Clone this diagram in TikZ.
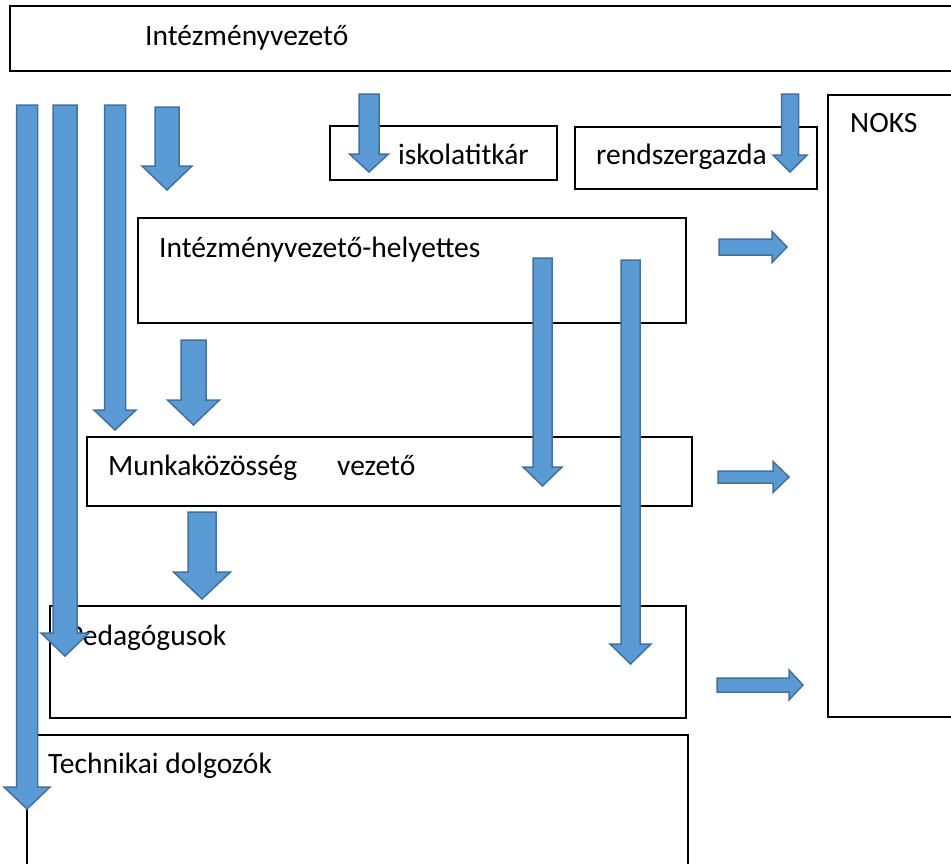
\documentclass[tikz,border=0pt]{standalone}
\usepackage{fontspec}
\setmainfont{Carlito}
\definecolor{arrowblue}{HTML}{5B9BD5}
\definecolor{arrowedge}{HTML}{41719C}
\tikzset{
	box/.style={draw=black, line width=2pt},
	blockarrow/.style={fill=arrowblue, draw=arrowedge, line width=1.5pt, line join=miter},
	boxtext/.style={anchor=base west, inner sep=0pt, font=\fontsize{29.5}{35}\selectfont}
}
% #1 x, #2 top, #3 head base, #4 tip, #5 half shaft, #6 half head
\newcommand{\varrow}[6]{\draw[blockarrow] ({#1-#5},#2) -- ({#1+#5},#2) -- ({#1+#5},#3) -- ({#1+#6},#3) -- (#1,#4) -- ({#1-#6},#3) -- ({#1-#5},#3) -- cycle;}
% #1 y, #2 left, #3 head base, #4 tip, #5 half shaft, #6 half head
\newcommand{\harrow}[6]{\draw[blockarrow] (#2,{#1-#5}) -- (#3,{#1-#5}) -- (#3,{#1-#6}) -- (#4,#1) -- (#3,{#1+#6}) -- (#3,{#1+#5}) -- (#2,{#1+#5}) -- cycle;}
\begin{document}
\begin{tikzpicture}[x=1pt, y=-1pt]
	\clip (0,0) rectangle (951,863);
	\fill[white] (0,0) rectangle (951,863);
	% boxes
	\draw[box] (10,6) rectangle (975,71);
	\draw[box] (828,95) rectangle (975,717);
	\draw[box] (330,126) rectangle (557,180);
	\draw[box] (575,127) rectangle (817,189);
	\draw[box] (138,218) rectangle (686,323);
	\draw[box] (87,437) rectangle (692,506);
	\draw[box] (50,606) rectangle (686,718);
	\draw[box] (27,735) rectangle (688,880);
	\node[boxtext] (vezeto) at (145,45) {Intézményvezető};
	\node[boxtext] (noks) at (850,132) {NOKS};
	\node[boxtext] (titkar) at (398,164) {iskolatitkár};
	\node[boxtext] (rendszer) at (596,164) {rendszergazda};
	\node[boxtext] (helyettes) at (159,257) {Intézményvezető-helyettes};
	\node[boxtext] (munka) at (108,475) {Munkaközösség\hspace{40pt}vezető};
	\node[boxtext] (pedagogus) at (68,645) {Pedagógusok};
	\node[boxtext] (technikai) at (48,773) {Technikai dolgozók};
	% down arrows
	\foreach \x/\t/\b/\e/\s/\h in {27/105/787/809/10.5/23, 65/105/633/656/12/24,
			115/105/410/430/10.5/21, 167/107/166/190/12/25, 369/94/154/172/10/19.5,
			790/94/155/172/8.5/17, 542.5/258/467/486/9.5/19.5, 630.5/260/644/664/9.5/20.5,
			193.5/340/400/425/12.5/26, 202/512/572/599/14/28.5}{
			\varrow{\x}{\t}{\b}{\e}{\s}{\h}
		}
	% arrows to NOKS
	\foreach \y/\l/\b/\e/\s/\h in {247/719/772/787/8/15.5, 477/718/773/789/6/15.5,
			685/717/789/803/7/15}{
			\harrow{\y}{\l}{\b}{\e}{\s}{\h}
		}
\end{tikzpicture}
\end{document}
